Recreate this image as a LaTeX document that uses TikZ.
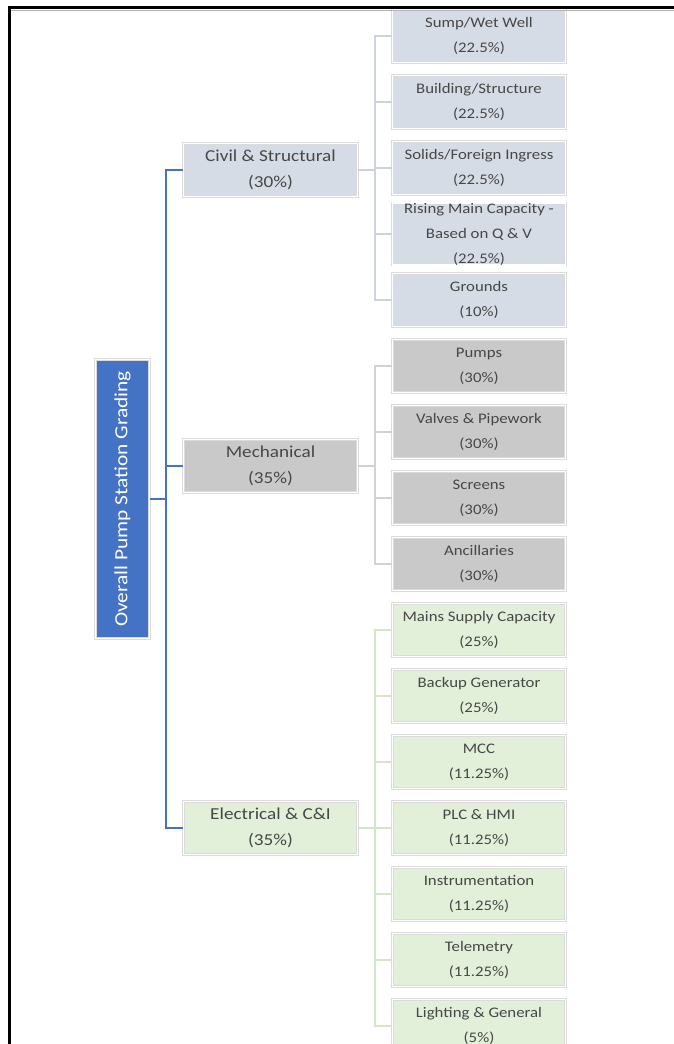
\documentclass[tikz,border=0pt]{standalone}
\usepackage{fontspec}
\setmainfont{Carlito}[FakeStretch=1.15]
\definecolor{rootfill}{HTML}{4472C4}
\definecolor{civfill}{HTML}{D6DCE5}
\definecolor{mechfill}{HTML}{C9C9C9}
\definecolor{elecfill}{HTML}{E2F0D9}
\definecolor{civline}{HTML}{CCD3DE}
\definecolor{mechline}{HTML}{D2D2D2}
\definecolor{elecline}{HTML}{D3E7C6}
\begin{document}
\begin{tikzpicture}[x=1pt, y=-1pt,
    box/.style={draw=black!14, double=white, double distance=1.6pt, line width=0.5pt,
        text=black!72, align=center, inner sep=0pt},
    topbox/.style={box, minimum width=174pt, minimum height=53pt, font=\fontsize{16.7}{26}\selectfont},
    subbox/.style={box, minimum width=173pt, minimum height=53pt, font=\fontsize{14.6}{25}\selectfont},
    busline/.style={draw=rootfill, line width=1.8pt},
    subline/.style={line width=1.8pt}]
    \useasboundingbox (0,0) rectangle (674,1044);
    \fill[white] (0,0) rectangle (674,1044);

    % Root
    \node[box, fill=rootfill, text=white, minimum width=54pt, minimum height=279pt,
        font=\fontsize{18.6}{20}\selectfont] (root) at (122.5,499)
        {\rotatebox{90}{Overall Pump Station Grading}};

    % Second level
    \node[topbox, fill=civfill] (civ) at (270.5,170) {Civil \& Structural\\(30\%)};
    \node[topbox, fill=mechfill] (mech) at (270.5,466) {Mechanical\\(35\%)};
    \node[topbox, fill=elecfill] (elec) at (270.5,828) {Electrical \& C\&I\\(35\%)};

    % Civil & Structural items
    \foreach \txt [count=\i] in {{Sump/Wet Well\\(22.5\%)}, {Building/Structure\\(22.5\%)},
        {Solids/Foreign Ingress\\(22.5\%)},
        {\fontsize{14.6}{19.5}\selectfont Rising Main Capacity -\\Based on Q \& V\\(22.5\%)},
        {Grounds\\(10\%)}}
        \node[subbox, fill=civfill] (c\i) at (479,{36+66*(\i-1)}) {\txt};

    % Mechanical items
    \foreach \txt [count=\i] in {{Pumps\\(30\%)}, {Valves \& Pipework\\(30\%)},
        {Screens\\(30\%)}, {Ancillaries\\(30\%)}}
        \node[subbox, fill=mechfill] (m\i) at (479,{36+66*(4+\i)}) {\txt};

    % Electrical & C&I items
    \foreach \txt [count=\i] in {{Mains Supply Capacity\\(25\%)}, {Backup Generator\\(25\%)},
        {MCC\\(11.25\%)}, {PLC \& HMI\\(11.25\%)}, {Instrumentation\\(11.25\%)},
        {Telemetry\\(11.25\%)}, {Lighting \& General\\(5\%)}}
        \node[subbox, fill=elecfill] (e\i) at (479,{36+66*(8+\i)}) {\txt};

    % Connectors
    \foreach \n in {civ,mech,elec}
        \draw[busline] (root.east) -- ([xshift=16pt]root.east) |- (\n.west);
    \foreach \i in {1,...,5}
        \draw[subline, civline] (civ.east) -- ++(17,0) |- (c\i.west);
    \foreach \i in {1,...,4}
        \draw[subline, mechline] (mech.east) -- ++(17,0) |- (m\i.west);
    \foreach \i in {1,...,7}
        \draw[subline, elecline] (elec.east) -- ++(17,0) |- (e\i.west);

    % Frame
    \draw[black!30, line width=1.5pt] (11,10.5) -- (674,10.5);
    \draw[line width=3pt] (8,7.5) -- (674,7.5);
    \draw[line width=3pt] (9.5,6) -- (9.5,1044);
\end{tikzpicture}
\end{document}
